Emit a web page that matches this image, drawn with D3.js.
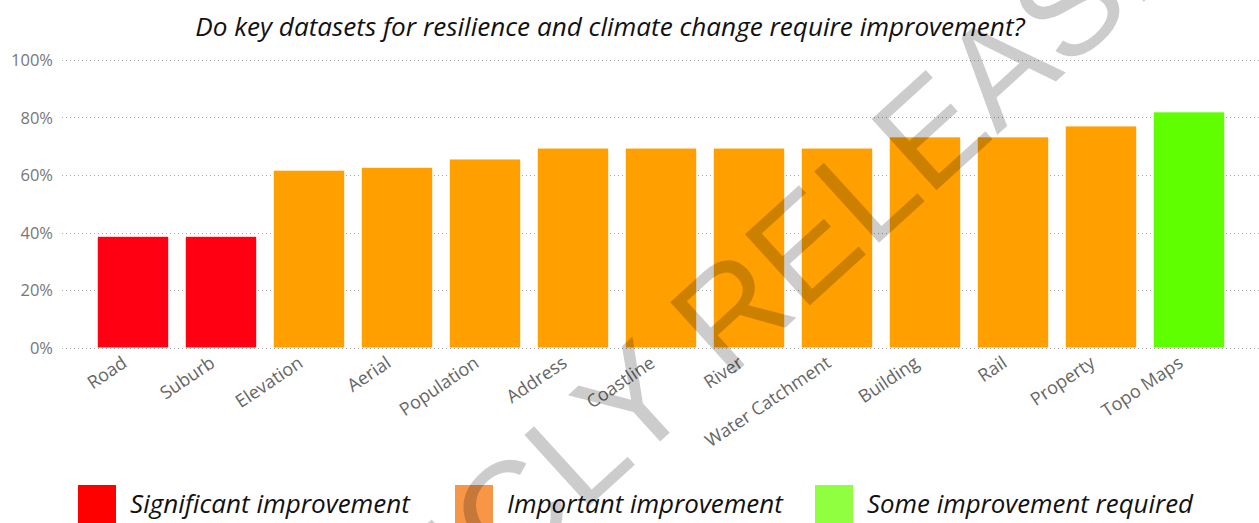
<!DOCTYPE html>
<html>
<head>
<meta charset="utf-8">
<script src="https://cdn.jsdelivr.net/npm/d3@7"></script>
<style>
  html, body { margin: 0; padding: 0; background: #fff; }
  svg { display: block; }
</style>
</head>
<body>
<svg id="chart" width="1259" height="523"></svg>
<script>
// ---- data ----
const title = "Do key datasets for resilience and climate change require improvement?";
const categories = ["Road", "Suburb", "Elevation", "Aerial", "Population", "Address", "Coastline", "River", "Water Catchment", "Building", "Rail", "Property", "Topo Maps"];
const values = [0.385, 0.385, 0.615, 0.625, 0.654, 0.692, 0.692, 0.692, 0.692, 0.731, 0.731, 0.769, 0.818];
const levels = ["Significant", "Significant", "Important", "Important", "Important", "Important", "Important", "Important", "Important", "Important", "Important", "Important", "Some"];
const legendKeys = ["Significant", "Important", "Some"];
const legendLabels = ["Significant improvement", "Important improvement", "Some improvement required"];
const yTicks = [0, 0.2, 0.4, 0.6, 0.8, 1.0];
const watermark = "PUBLICLY RELEASED";

// ---- styles ----
const barColor = { Significant: "#FF0013", Important: "#FFA000", Some: "#5FFF00" };
const legendColor = { Significant: "#FF0000", Important: "#F79646", Some: "#8FFF40" };
const uiFont = "'Open Sans', 'Noto Sans', sans-serif";

const svg = d3.select("#chart");

const x = d3.scaleBand().domain(categories).range([89, 1233]).paddingInner(0.2).paddingOuter(0.1);
const y = d3.scaleLinear().domain([0, 1]).range([347.5, 60]);

// gridlines
svg.append("g").selectAll("line").data(yTicks).join("line")
  .attr("x1", 62).attr("x2", 1259)
  .attr("y1", d => Math.round(y(d)) + 0.5).attr("y2", d => Math.round(y(d)) + 0.5)
  .attr("stroke", "#a8a8a8").attr("stroke-width", 1).attr("stroke-dasharray", "1,3");

// y axis labels
const yAxis = d3.axisLeft(y).tickValues(yTicks).tickFormat(d3.format(".0%")).tickSize(0).tickPadding(0);
const yg = svg.append("g").attr("transform", "translate(53,0)").call(yAxis);
yg.select(".domain").remove();
yg.selectAll("text").attr("fill", "#777").style("font-family", uiFont).style("font-size", "16.5px").attr("dy", "0.36em");

// bars
svg.append("g").selectAll("rect").data(categories).join("rect")
  .attr("x", d => x(d)).attr("width", x.bandwidth())
  .attr("y", (d, i) => y(values[i])).attr("height", (d, i) => y(0) - y(values[i]))
  .attr("fill", (d, i) => barColor[levels[i]]);

// x axis labels
const xAxis = d3.axisBottom(x).tickSize(0).tickPadding(0);
const xg = svg.append("g").attr("transform", "translate(0,355)").call(xAxis);
xg.select(".domain").remove();
xg.selectAll("text")
  .attr("fill", "#666").style("font-family", uiFont).style("font-size", "18px")
  .attr("text-anchor", "end").attr("dy", "0.72em").attr("dx", 0).attr("y", 0)
  .attr("transform", "translate(-12,0) rotate(-34)");

// title
const t = svg.append("text").text(title)
  .attr("x", 610).attr("y", 36).attr("text-anchor", "middle")
  .style("font-family", uiFont).style("font-style", "italic").style("font-size", "24px").attr("fill", "#111");
(function fit(node, target) {
  const w = node.getComputedTextLength();
  const fs = parseFloat(node.style.fontSize);
  node.style.fontSize = (fs * target / w) + "px";
})(t.node(), 830);

// legend
const legendX = [78, 455, 815];
const lg = svg.append("g");
legendKeys.forEach((k, i) => {
  lg.append("rect").attr("x", legendX[i]).attr("y", 485).attr("width", 38).attr("height", 38).attr("fill", legendColor[k]);
  lg.append("text").text(legendLabels[i])
    .attr("x", legendX[i] + 52).attr("y", 513)
    .style("font-family", uiFont).style("font-style", "italic").style("font-size", "24px").attr("fill", "#111");
});
const legendWidths = [280, 276, 326];
lg.selectAll("text").each(function(d, i) {
  const w = this.getComputedTextLength();
  const fs = parseFloat(this.style.fontSize);
  this.style.fontSize = (fs * legendWidths[i] / w) + "px";
});

// watermark
const wmSize = 140;
const wm = svg.append("text").text(watermark)
  .attr("x", 0).attr("y", 0)
  .style("font-family", "'Liberation Sans', Arial, sans-serif").style("font-size", wmSize + "px")
  .attr("fill", "#000").attr("fill-opacity", 0.2);
const ei = watermark.indexOf("E", watermark.indexOf("L", 9));
const p = wm.node().getStartPositionOfChar(ei);
wm.attr("transform", `translate(928,198) rotate(-42.3) translate(${-p.x},${-p.y})`);
</script>
</body>
</html>
